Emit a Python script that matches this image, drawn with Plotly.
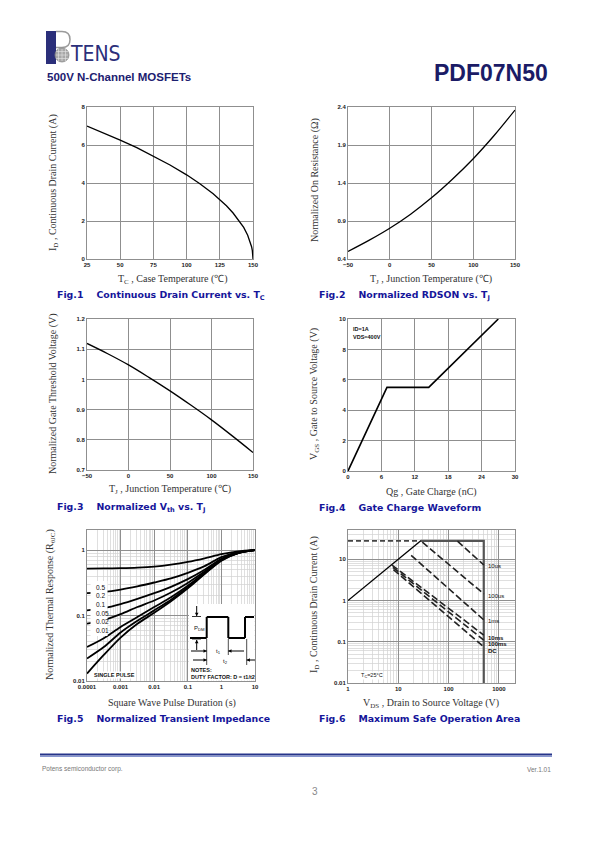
import plotly.graph_objects as go

# ---------------- data ----------------
fig1_tc = [25, 37.5, 50, 62.5, 75, 87.5, 100, 110, 120, 125, 130, 135, 140, 143, 146, 148, 149, 149.5, 150]
fig1_id = [7.0, 6.64, 6.26, 5.86, 5.42, 4.95, 4.43, 3.96, 3.43, 3.13, 2.80, 2.42, 1.98, 1.66, 1.25, 0.89, 0.63, 0.44, 0.0]

fig2_tj = [-50, -25, 0, 25, 50, 75, 100, 125, 150]
fig2_r = [0.50, 0.645, 0.805, 0.99, 1.205, 1.45, 1.72, 2.025, 2.36]

fig3_tj = [-50, -25, 0, 25, 50, 75, 100, 125, 150]
fig3_v = [1.119, 1.085, 1.048, 1.006, 0.962, 0.915, 0.866, 0.813, 0.758]

fig4_qg = [0, 7, 14.5, 27]
fig4_vgs = [0, 5.5, 5.5, 10]

fig5_t = [1e-4, 3.16e-4, 1e-3, 3.16e-3, 1e-2, 3.16e-2, 0.1, 0.316, 1, 3.16, 10]
fig5_labels = ["0.5", "0.2", "0.1", "0.05", "0.02", "0.01", "SINGLE PULSE"]
fig5_d05 = [0.52, 0.525, 0.53, 0.54, 0.56, 0.60, 0.66, 0.75, 0.87, 0.96, 1.0]
fig5_d02 = [0.22, 0.23, 0.25, 0.28, 0.32, 0.37, 0.45, 0.57, 0.78, 0.93, 1.0]
fig5_d01 = [0.12, 0.13, 0.15, 0.18, 0.22, 0.275, 0.36, 0.50, 0.74, 0.92, 1.0]
fig5_d005 = [0.075, 0.085, 0.105, 0.135, 0.17, 0.225, 0.315, 0.47, 0.72, 0.91, 1.0]
fig5_d002 = [0.033, 0.045, 0.067, 0.095, 0.135, 0.19, 0.285, 0.45, 0.71, 0.90, 1.0]
fig5_d001 = [0.022, 0.033, 0.055, 0.083, 0.12, 0.175, 0.27, 0.44, 0.70, 0.90, 1.0]
fig5_single = [0.013, 0.025, 0.046, 0.075, 0.11, 0.165, 0.26, 0.43, 0.69, 0.90, 1.0]

fig6_rds_v = [1, 28]
fig6_rds_i = [1, 28]
fig6_lim_v = [28, 500, 500]
fig6_lim_i = [28, 28, 0.01]
fig6_top_v = [1, 28]
fig6_top_i = [28, 28]
fig6_names = ["10us", "100us", "1ms", "10ms", "100ms", "DC"]
fig6_v = [[150, 500], [30, 500], [18, 500], [7.5, 500], [7.8, 500], [8.0, 500]]
fig6_i = [[27.5, 7.3], [26, 1.45], [12.5, 0.34], [7.2, 0.145], [6.4, 0.11], [5.6, 0.075]]

# ---------------- geometry helpers ----------------
PAGE_W, PAGE_H = 595, 842
OFF = 8
FW, FH = PAGE_W - OFF, PAGE_H - OFF


def X(p):
    return (p - OFF) / FW


def Y(p):
    return 1 - (p - OFF) / FH


SERIF = "Liberation Serif"
SANS = "Liberation Sans"
HEAVY = "DejaVu Sans"
CAP = "#15159a"
NAVY = "#1c2070"
GRID = "#8f8f8f"
MINOR = "#d2d2d2"

panels = {1: (87, 253, 107, 259), 2: (348, 515, 107, 259), 3: (87, 253, 319, 470),
          4: (348, 515, 319, 471), 5: (87, 255, 530, 681), 6: (348, 515, 530, 683)}

fig = go.Figure()


def xa(i):
    return "x" if i == 1 else f"x{i}"


def ya(i):
    return "y" if i == 1 else f"y{i}"


line_blk = dict(color="black", width=1.3)
fig.add_trace(go.Scatter(x=fig1_tc, y=fig1_id, mode="lines", line=line_blk, xaxis=xa(1), yaxis=ya(1)))
fig.add_trace(go.Scatter(x=fig2_tj, y=fig2_r, mode="lines", line=dict(line_blk, shape="spline"), xaxis=xa(2), yaxis=ya(2)))
fig.add_trace(go.Scatter(x=fig3_tj, y=fig3_v, mode="lines", line=dict(line_blk, shape="spline"), xaxis=xa(3), yaxis=ya(3)))
fig.add_trace(go.Scatter(x=fig4_qg, y=fig4_vgs, mode="lines", line=dict(color="black", width=1.6), xaxis=xa(4), yaxis=ya(4)))

for ys in [fig5_d05, fig5_d02, fig5_d01, fig5_d005, fig5_d002, fig5_d001, fig5_single]:
    fig.add_trace(go.Scatter(x=fig5_t, y=ys, mode="lines", line=dict(color="black", width=1.8, shape="spline", smoothing=0.8),
                             xaxis=xa(5), yaxis=ya(5)))

fig.add_trace(go.Scatter(x=fig6_top_v, y=fig6_top_i, mode="lines", line=dict(color="#444", width=1.6, dash="5px,3px"), xaxis=xa(6), yaxis=ya(6)))
fig.add_trace(go.Scatter(x=fig6_rds_v, y=fig6_rds_i, mode="lines", line=dict(color="black", width=1.3), xaxis=xa(6), yaxis=ya(6)))
fig.add_trace(go.Scatter(x=fig6_lim_v, y=fig6_lim_i, mode="lines", line=dict(color="#555", width=2.2), xaxis=xa(6), yaxis=ya(6)))
for vv, ii in zip(fig6_v, fig6_i):
    fig.add_trace(go.Scatter(x=vv, y=ii, mode="lines", line=dict(color="#222", width=1.6, dash="7px,3px"), xaxis=xa(6), yaxis=ya(6)))

tickfont = dict(family=SANS, size=6, color="#222", weight="bold")


def lin_axes(i, xr, xd, yr, yd):
    l, r, t, b = panels[i]
    common = dict(showgrid=True, gridcolor=GRID, gridwidth=1, showline=True, linecolor=GRID, linewidth=1,
                  mirror=True, zeroline=False, ticks="", tickfont=tickfont, fixedrange=True)
    xk = "xaxis" if i == 1 else f"xaxis{i}"
    yk = "yaxis" if i == 1 else f"yaxis{i}"
    return {xk: dict(common, domain=[X(l), X(r)], anchor=ya(i), range=xr, tick0=xr[0], dtick=xd),
            yk: dict(common, domain=[Y(b), Y(t)], anchor=xa(i), range=yr, tick0=yr[0], dtick=yd)}


def log_axes(i, xr, xv, xt, yr, yv, yt):
    l, r, t, b = panels[i]
    common = dict(type="log", showgrid=True, gridcolor=GRID, gridwidth=1, showline=True, linecolor=GRID, linewidth=1,
                  mirror=True, zeroline=False, ticks="", tickfont=tickfont, fixedrange=True, tickmode="array",
                  minor=dict(showgrid=True, gridcolor=MINOR, gridwidth=0.7, dtick="D1", ticks=""))
    xk = f"xaxis{i}"
    yk = f"yaxis{i}"
    return {xk: dict(common, domain=[X(l), X(r)], anchor=ya(i), range=xr, tickvals=xv, ticktext=xt),
            yk: dict(common, domain=[Y(b), Y(t)], anchor=xa(i), range=yr, tickvals=yv, ticktext=yt)}


layout_axes = {}
layout_axes.update(lin_axes(1, [25, 150], 25, [0, 8], 2))
layout_axes.update(lin_axes(2, [-50, 150], 50, [0.4, 2.4], 0.5))
layout_axes.update(lin_axes(3, [-50, 150], 50, [0.7, 1.2], 0.1))
layout_axes.update(lin_axes(4, [0, 30], 6, [0, 10], 2))
layout_axes.update(log_axes(5, [-4, 1], [1e-4, 1e-3, 1e-2, 0.1, 1, 10], ["0.0001", "0.001", "0.01", "0.1", "1", "10"],
                            [-2, 0.3075], [0.01, 0.1, 1], ["0.01", "0.1", "1"]))
layout_axes.update(log_axes(6, [0, 3.32], [1, 10, 100, 1000], ["1", "10", "100", "1000"],
                            [-2, 1.71], [0.01, 0.1, 1, 10], ["0.01", "0.1", "1", "10"]))

ann = []
shapes = []


def txt(x, y, s, size, family=SANS, color="#222", xanchor="left", yanchor="middle", angle=0, bold=False, bg=None):
    d = dict(x=X(x), y=Y(y), xref="paper", yref="paper", text=s, showarrow=False,
             font=dict(family=family, size=size, color=color, weight="bold" if bold else "normal"),
             xanchor=xanchor, yanchor=yanchor, textangle=angle, borderpad=0)
    if bg:
        d["bgcolor"] = bg
    ann.append(d)


def seg(x0, y0, x1, y1, w=1, color="black"):
    shapes.append(dict(type="line", xref="paper", yref="paper", x0=X(x0), y0=Y(y0), x1=X(x1), y1=Y(y1),
                       line=dict(color=color, width=w), layer="above"))


def rect(x0, y0, x1, y1, fill, lw=0, lc=None):
    shapes.append(dict(type="rect", xref="paper", yref="paper", x0=X(x0), y0=Y(y0), x1=X(x1), y1=Y(y1),
                       fillcolor=fill, line=dict(width=lw, color=lc or fill), layer="above"))


def arrow(hx, hy, tx, ty):
    # arrow drawn as a shaft plus a small triangular head
    seg(tx, ty, hx, hy, 1)
    import math
    ang = math.atan2(hy - ty, hx - tx)
    L, Wd = 3.2, 1.8
    bx, by = hx - L * math.cos(ang), hy - L * math.sin(ang)
    px, py = -math.sin(ang) * Wd, math.cos(ang) * Wd
    shapes.append(dict(type="path", xref="paper", yref="paper", layer="above",
                       path=f"M {X(hx)},{Y(hy)} L {X(bx + px)},{Y(by + py)} L {X(bx - px)},{Y(by - py)} Z",
                       fillcolor="black", line=dict(width=0, color="black")))


# ---- header (logo) ----
rect(46, 31, 56, 64, "#2b2f7a")
shapes.append(dict(type="path", xref="paper", yref="paper", layer="above",
                   path=f"M {X(56)},{Y(31.5)} L {X(62)},{Y(31.5)} Q {X(70)},{Y(31.5)} {X(70)},{Y(39.5)} "
                        f"Q {X(70)},{Y(47.5)} {X(62)},{Y(47.5)} L {X(56)},{Y(47.5)}",
                   line=dict(color="#9a9a9a", width=1.5)))
shapes.append(dict(type="circle", xref="paper", yref="paper", layer="above", x0=X(55), y0=Y(48), x1=X(69), y1=Y(62),
                   fillcolor="#a8a8a8", line=dict(color="#8a8a8a", width=0.8)))
for gx in [58.5, 62, 65.5]:
    seg(gx, 49, gx, 61, 0.6, "#e6e6e6")
for gy in [51.5, 55, 58.5]:
    seg(56, gy, 68, gy, 0.6, "#e6e6e6")
txt(68.5, 54.5, "TENS", 21, family="DejaVu Sans Condensed, Liberation Sans", color="#2b2f7a")
txt(46, 77, "500V N-Channel MOSFETs", 11.5, color=NAVY, bold=True)
txt(549, 73, "PDF07N50", 23, color="#1b1b66", bold=True, xanchor="right")

# ---- axis titles ----
txt(173, 279, "T<sub>C</sub> , Case Temperature (℃)", 10, family=SERIF, color="#333", xanchor="center")
txt(53, 183, "I<sub>D</sub> , Continuous Drain Current (A)", 10, family=SERIF, color="#333", xanchor="center", angle=-90)
txt(431, 279, "T<sub>J</sub> , Junction Temperature (℃)", 10, family=SERIF, color="#333", xanchor="center")
txt(315, 180, "Normalized On Resistance (Ω)", 10, family=SERIF, color="#333", xanchor="center", angle=-90)
txt(170, 490, "T<sub>J</sub> , Junction Temperature (℃)", 10, family=SERIF, color="#333", xanchor="center")
txt(53, 394, "Normalized Gate Threshold Voltage (V)", 10, family=SERIF, color="#333", xanchor="center", angle=-90)
txt(431, 492, "Qg , Gate Charge (nC)", 10, family=SERIF, color="#333", xanchor="center")
txt(314, 394, "V<sub>GS</sub> , Gate to Source Voltage (V)", 10, family=SERIF, color="#333", xanchor="center", angle=-90)
txt(172, 703, "Square Wave Pulse Duration (s)", 10, family=SERIF, color="#333", xanchor="center")
txt(50, 605, "Normalized Thermal Response (R<sub>θJC</sub>)", 10, family=SERIF, color="#333", xanchor="center", angle=-90)
txt(431, 703, "V<sub>DS</sub> , Drain to Source Voltage (V)", 10, family=SERIF, color="#333", xanchor="center")
txt(314, 605, "I<sub>D</sub> , Continuous Drain Current (A)", 10, family=SERIF, color="#333", xanchor="center", angle=-90)

# ---- captions ----
S3 = "\u00a0\u00a0\u00a0\u00a0"
txt(56, 295, "Fig.1" + S3 + "Continuous Drain Current vs. T<sub>C</sub>", 9.4, family=HEAVY, color=CAP, bold=True)
txt(318, 295, "Fig.2" + S3 + "Normalized RDSON vs. T<sub>J</sub>", 9.4, family=HEAVY, color=CAP, bold=True)
txt(56, 507, "Fig.3" + S3 + "Normalized V<sub>th</sub> vs. T<sub>J</sub>", 9.4, family=HEAVY, color=CAP, bold=True)
txt(318, 507, "Fig.4" + S3 + "Gate Charge Waveform", 9.4, family=HEAVY, color=CAP, bold=True)
txt(56, 718, "Fig.5" + S3 + "Normalized Transient Impedance", 9.4, family=HEAVY, color=CAP, bold=True)
txt(318, 718, "Fig.6" + S3 + "Maximum Safe Operation Area", 9.4, family=HEAVY, color=CAP, bold=True)

# ---- fig4 notes ----
txt(352, 328.5, "ID=1A", 5.5, bold=True, color="#111")
txt(352, 336.5, "VDS=400V", 5.5, bold=True, color="#111")

# ---- fig5 labels & inset ----
rect(90.5, 581, 107.5, 636, "white")
for lab, yy in zip(fig5_labels[:6], [587, 595.5, 604, 613, 621.5, 630]):
    txt(95, yy, lab, 6.5, color="#111")
txt(93, 675, fig5_labels[6], 5.5, bold=True, color="#111", bg="white")

rect(189, 604, 254.5, 680.5, "white")
seg(190, 638, 206.7, 638, 2)
seg(206.7, 638, 206.7, 617, 2)
seg(206.7, 617, 228.3, 617, 2)
seg(228.3, 617, 228.3, 638, 2)
seg(228.3, 638, 245, 638, 2)
seg(245, 638, 245, 617, 2)
seg(245, 617, 254, 617, 2)
seg(192, 616.5, 201, 616.5, 0.8)
seg(192, 639, 201, 639, 0.8)
arrow(196.7, 616, 196.7, 606)
arrow(196.7, 640, 196.7, 650)
txt(193, 628, "P<sub>DM</sub>", 6, color="#111")
seg(206.7, 639, 206.7, 665, 0.7)
seg(228.3, 639, 228.3, 655, 0.7)
seg(246.7, 639, 246.7, 665, 0.7)
arrow(206.7, 651, 191, 651)
arrow(228.3, 651, 244, 651)
txt(218, 651, "t<sub>1</sub>", 6, color="#111", xanchor="center")
arrow(206.7, 660, 193, 660)
arrow(246.7, 660, 255, 660)
txt(225, 661, "t<sub>2</sub>", 6, color="#111", xanchor="center")
txt(190, 670, "NOTES:", 5.5, bold=True, color="#111")
txt(190, 677, "DUTY FACTOR: D = t1/t2", 5.5, bold=True, color="#111")

# ---- fig6 labels ----
for lab, yy in zip(fig6_names, [565.5, 595.5, 621, 637.5, 643.7, 651]):
    txt(487, yy, lab, 6, color="#111", bold=(lab in ["10ms", "100ms", "DC"]))
txt(360, 675, "T<sub>C</sub>=25°C", 5.5, color="#111", bg="white")

# ---- footer ----
seg(40, 754.5, 552, 754.5, 2.2, "#26348a")
seg(40, 756.3, 552, 756.3, 1, "#6a7cc4")
txt(41, 769, "Potens semiconductor corp.", 6.5, color="#777")
txt(552, 769, "Ver.1.01", 6.5, color="#777", xanchor="right")
txt(315, 791, "3", 10, color="#888", xanchor="center")

fig.update_layout(
    width=FW, height=FH, margin=dict(l=0, r=0, t=0, b=0),
    paper_bgcolor="white", plot_bgcolor="white", template="none", showlegend=False,
    annotations=ann, shapes=shapes, hovermode=False, **layout_axes)

fig.write_html("out.html", config={"displayModeBar": False, "staticPlot": True})
